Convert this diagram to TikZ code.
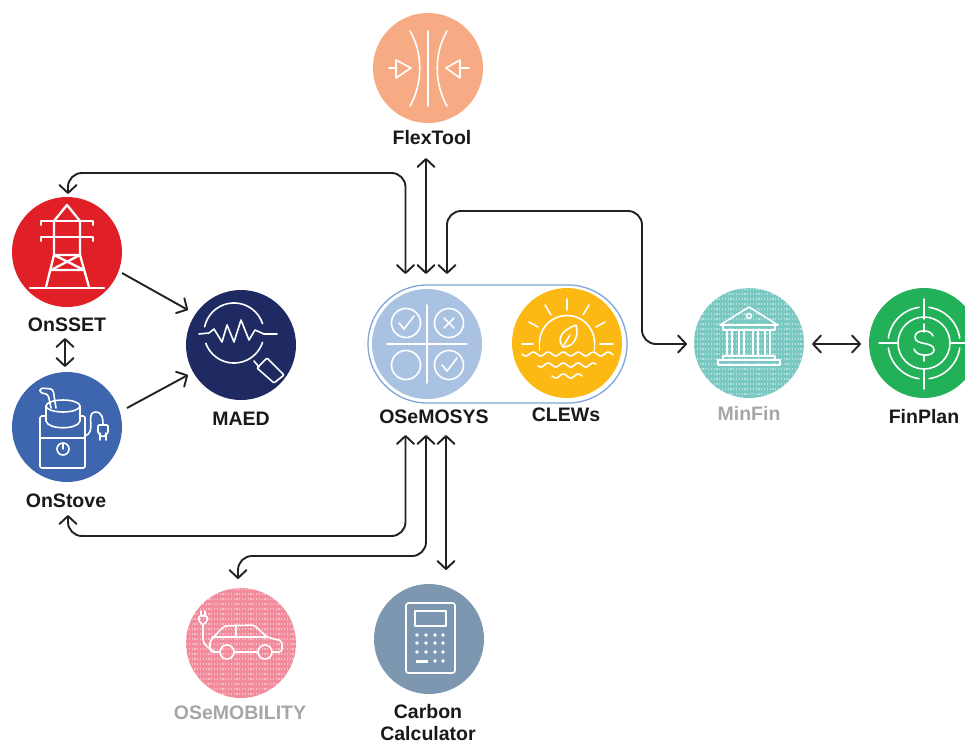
\documentclass[tikz,border=0pt]{standalone}
\usepackage{fontspec}
\setmainfont{Liberation Sans}
\usetikzlibrary{arrows.meta}
\definecolor{conn}{HTML}{222222}
\definecolor{pillline}{RGB}{127,166,216}
\tikzset{
  x=1pt,y=-1pt,
  disc/.style={circle,inner sep=0pt,minimum size=110pt,draw=none},
  lab/.style={font=\bfseries\fontsize{19.5}{21}\selectfont,text=black!90,inner sep=0pt,align=center},
  faded/.style={lab,text=black!35},
  conn/.style={draw=conn,line width=1.9pt,rounded corners=14pt,>={Straight Barb[length=8pt,width=17pt,round]}},
  icon/.style={draw=white,line width=1.6pt,line join=round,line cap=round},
  thick icon/.style={icon,line width=2.3pt},
  tex/.style={draw=white,line width=1.1pt,opacity=.45,dash pattern=on 1.2pt off 1.6pt}
}
\newcommand\iconarc[5]{\draw[icon] plot[smooth,domain=#4:#5,samples=40] ({#1+#3*cos(\x)},{#2+#3*sin(\x)});}
\newcommand\iconwave[3]{\draw[icon] plot[smooth,domain=#1:#2,samples=50] (\x,{#3+2*sin(\x*24)});}
\newcommand\texdisc[1]{\begin{scope}\clip (#1.center) circle (55pt);
  \begin{scope}[shift={(#1.center)}]\foreach \r in {-54,-49,...,54}{\draw[tex] (-55,\r) -- (55,\r);}\end{scope}\end{scope}}
\begin{document}
\begin{tikzpicture}
\useasboundingbox (0,0) rectangle (965,744);
% pill
\node[draw=pillline,line width=1.3pt,rounded corners=59pt,inner sep=0pt,minimum width=259pt,minimum height=118pt] (pill) at (497.5,344) {};
% discs
\node[disc,fill={rgb,255:red,224;green,31;blue,39}] (onsset) at (67,252) {};
\node[disc,fill={rgb,255:red,61;green,102;blue,174}] (onstove) at (67,427) {};
\node[disc,fill={rgb,255:red,31;green,42;blue,99}] (maed) at (241,345) {};
\node[disc,fill={rgb,255:red,247;green,171;blue,132}] (flex) at (428,68) {};
\node[disc,fill={rgb,255:red,169;green,194;blue,226}] (osemosys) at (427,344) {};
\node[disc,fill={rgb,255:red,253;green,185;blue,19}] (clews) at (567,343) {};
\node[disc,fill={rgb,255:red,121;green,200;blue,194}] (minfin) at (749,343) {};
\node[disc,fill={rgb,255:red,34;green,176;blue,89}] (finplan) at (924,343) {};
\node[disc,fill={rgb,255:red,242;green,139;blue,156}] (mobility) at (241,643) {};
\node[disc,fill={rgb,255:red,125;green,151;blue,176}] (carbon) at (429,639) {};
\texdisc{minfin}
\texdisc{mobility}
% labels
\node[lab] (lonsset) at (67,325) {OnSSET};
\node[lab] (lonstove) at (66,501) {OnStove};
\node[lab] (lmaed) at (241,419) {MAED};
\node[lab] (lflex) at (432,138) {FlexTool};
\node[lab] (losemosys) at (434,417) {OSeMOSYS};
\node[lab] (lclews) at (566,415) {CLEWs};
\node[faded] (lminfin) at (749,413) {MinFin};
\node[lab] (lfinplan) at (924,417) {FinPlan};
\node[faded] (lmobility) at (240,713) {OSeMOBILITY};
\node[lab] (lcarbon) at (428,722.5) {Carbon\\[1.5pt]Calculator};
% port coordinates
\coordinate (pSSETtop) at (68,194);
\coordinate (pStoveBot) at (68,515);
\coordinate (pSSETa) at (122,273);
\coordinate (pStoveA) at (127,408);
\coordinate (pMaedA) at (188,310);
\coordinate (pMaedB) at (188,375);
\coordinate (pSSETb) at (65,338);
\coordinate (pStoveB) at (65,367);
\coordinate (pTopA) at (405.5,274);
\coordinate (pTopB) at (426,274);
\coordinate (pTopC) at (447,274);
\coordinate (pBotA) at (405.5,435);
\coordinate (pBotB) at (426,435);
\coordinate (pBotC) at (446,435);
\coordinate (pFlex) at (426,158);
\coordinate (pMinL) at (687,344);
\coordinate (pMinR) at (812,344);
\coordinate (pFin) at (861,344);
\coordinate (pMob) at (238,579);
\coordinate (pCarb) at (446,570);
% connectors
\draw[conn,<->] (pTopA) |- (pSSETtop |- 0,173) -- (pSSETtop);
\draw[conn,<->] (pFlex) -- (pTopB);
\draw[conn,<->] (pTopC) -- (447,211) -- (642,211) -- (642,344) -- (pMinL);
\draw[conn,<->] (pMinR) -- (pFin);
\draw[conn,->] (pSSETa) -- (pMaedA);
\draw[conn,->] (pStoveA) -- (pMaedB);
\draw[conn,<->] (pSSETb) -- (pStoveB);
\draw[conn,<->] (pBotA) |- (pStoveBot |- 0,536) -- (pStoveBot);
\draw[conn,<->] (pBotB) |- (pMob |- 0,556) -- (pMob);
\draw[conn,<->] (pBotC) -- (pCarb);
% OnSSET icon
\begin{scope}[shift={(onsset.center)},every path/.append style={thick icon}]
\draw (-37,36) -- (37,36);
\draw (-13,-31) -- (0,-47) -- (13,-31);
\draw (-26,-27) -- (-26,-31) -- (26,-31) -- (26,-27);
\draw (-26,-11) -- (-26,-15) -- (26,-15) -- (26,-11);
\draw (-21,35) -- (-13,3) -- (-13,-31) (22,35) -- (13,3) -- (13,-31);
\draw (-13,3) -- (13,3) (-16,18) -- (17,18) (-13,3) -- (17,18) (13,3) -- (-16,18);
\end{scope}
% OnStove icon
\begin{scope}[shift={(onstove.center)},every path/.append style={icon}]
\draw[rounded corners=2pt] (-21,-11) -- (-27,-11) -- (-27,41) -- (18,41) -- (18,-11) -- (14,-11);
\draw (-27,11) -- (18,11);
\draw (-4,22) circle (6pt);
\draw (-4,17) -- (-4,22);
\draw (-4,-21) ellipse (17pt and 6pt);
\draw (-21,-21) -- (-21,-6) .. controls (-19,3) and (11,3) .. (13,-6) -- (13,-21);
\draw[rounded corners=3pt] (-11,-19) -- (-14,-38) -- (-27,-39) -- (-27,-34) -- (-19,-33) -- (-16,-19);
\draw (18,9) .. controls (30,5) and (18,-14) .. (28,-15) .. controls (36,-15) and (36,-8) .. (36,-2);
\draw[rounded corners=1pt] (31,-2) -- (41,-2) -- (41,6) -- (36,10) -- (31,6) -- cycle;
\draw (33,6) -- (33,13) (39,6) -- (39,13);
\end{scope}
% MAED icon
\begin{scope}[shift={(maed.center)},every path/.append style={icon}]
\iconarc{-7}{-12}{30}{-168}{-18}
\iconarc{-7}{-12}{30}{18}{160}
\draw (-42,-11) -- (-32,-12) -- (-27,-16) -- (-19,-3) -- (-14,-20) -- (-7,-3) -- (0,-25) -- (8,-5) -- (14,-15) -- (23,-11) -- (36,-11);
\draw (13,16) -- (18,22);
\draw[rounded corners=1pt] (16,23) -- (26,13) -- (43,30) -- (33,38) -- cycle;
\end{scope}
% FlexTool icon
\begin{scope}[shift={(flex.center)},every path/.append style={icon}]
\draw (0,-37) -- (0,38);
\draw (-18,-37) .. controls (-5,-15) and (-5,15) .. (-18,38);
\draw (19,-37) .. controls (6,-15) and (6,15) .. (19,38);
\draw (-39,0) -- (-32,0) (41,0) -- (32,0);
\draw (-32,-8) -- (-17,0) -- (-32,10) -- cycle;
\draw (32,-8) -- (18,0) -- (32,10) -- cycle;
\end{scope}
% OSeMOSYS icon
\begin{scope}[shift={(osemosys.center)},every path/.append style={icon}]
\draw (0,-39) -- (0,39) (-40,0) -- (40,0);
\foreach \a/\b in {-21/-21,22/-21,-21/21,22/21}{\draw (\a,\b) circle (14.5pt);}
\draw (-28,-21) -- (-23,-15) -- (-13,-28);
\draw (15,21) -- (20,27) -- (30,14);
\draw (17,-26) -- (27,-16) (27,-26) -- (17,-16);
\end{scope}
% CLEWs icon
\begin{scope}[shift={(clews.center)},every path/.append style={icon}]
\iconarc{0}{0}{27.5}{-180}{0}
\draw (-27.5,0) -- (-27.5,7) (27.5,0) -- (27.5,7);
\draw (0,-44) -- (0,-33) (-22,-38) -- (-16,-28) (22,-38) -- (16,-28) (-38,-21) -- (-29,-16) (38,-21) -- (29,-16);
\draw[line width=1.9pt] (-45,1) -- (-34,1) (33,1) -- (46,1);
\draw (-4,4) .. controls (-12,-6) and (-2,-14) .. (9,-18) .. controls (12,-8) and (8,4) .. (-4,4);
\draw (-3,2) -- (3,-8);
\iconwave{-45}{46}{11}
\iconwave{-29}{29}{22}
\iconwave{-15}{15}{33}
\end{scope}
% MinFin icon
\begin{scope}[shift={(minfin.center)},every path/.append style={icon}]
\draw (0,-36) -- (-29,-18) -- (29,-18) -- cycle;
\draw (0,-27) circle (2.5pt);
\draw (-26,-18) rectangle (26,-13);
\foreach \c in {-22,-17,-10,-5,4,9,16,21}{\draw (\c,-13) -- (\c,13);}
\draw (-26,13) -- (26,13) -- (26,17) -- (-26,17) -- cycle;
\draw (-31,17) rectangle (31,22);
\end{scope}
% FinPlan icon
\begin{scope}[shift={(finplan.center)},every path/.append style={icon}]
\draw (0,0) circle (26pt);
\iconarc{0}{0}{36}{-82}{-8}
\iconarc{0}{0}{36}{8}{82}
\iconarc{0}{0}{36}{98}{172}
\iconarc{0}{0}{36}{-172}{-98}
\draw (0,-44) -- (0,-24) (0,27) -- (0,46) (-45,0) -- (-27,0) (27,0) -- (41,0);
\draw (9,-7) .. controls (7,-14) and (-9,-14) .. (-9,-6) .. controls (-9,3) and (10,-2) .. (10,7) .. controls (10,14) and (-8,14) .. (-10,6);
\draw (0,-19) -- (0,-11) (0,12) -- (0,18);
\end{scope}
% OSeMOBILITY icon
\begin{scope}[shift={(mobility.center)},every path/.append style={icon}]
\draw (-38,-18) -- (-38,-4) .. controls (-38,3) and (-32,4) .. (-26,9);
\draw[rounded corners=1pt] (-42,-27) -- (-34,-27) -- (-34,-22) -- (-38,-18) -- (-42,-22) -- cycle;
\draw (-40,-27) -- (-40,-32) (-36,-27) -- (-36,-32);
\draw[rounded corners=3pt] (-21,9) -- (-31,9) -- (-31,-2) -- (-17,-17) -- (13,-18) -- (26,-6) -- (41,-2) -- (41,9) -- (31,9);
\draw (-5,-18) -- (-5,-6) (-29,-6) -- (26,-6);
\draw (-14,9) circle (7pt) (24,9) circle (7pt);
\draw (-7,9) -- (17,9);
\end{scope}
% Carbon Calculator icon
\begin{scope}[shift={(carbon.center)},every path/.append style={icon}]
\draw[rounded corners=2.5pt] (-23,-36) rectangle (26,34);
\draw (-14,-28) rectangle (17,-13);
\end{scope}
\begin{scope}[shift={(carbon.center)}]
\foreach \r in {-4,4,13}{\foreach \c in {-12,-3,6,14}{\fill[white] (\c,\r) circle (1.9pt);}}
\foreach \c in {6,14}{\fill[white] (\c,22) circle (1.9pt);}
\fill[white] (-13,20.5) rectangle (-1,23.5);
\end{scope}
\end{tikzpicture}
\end{document}
